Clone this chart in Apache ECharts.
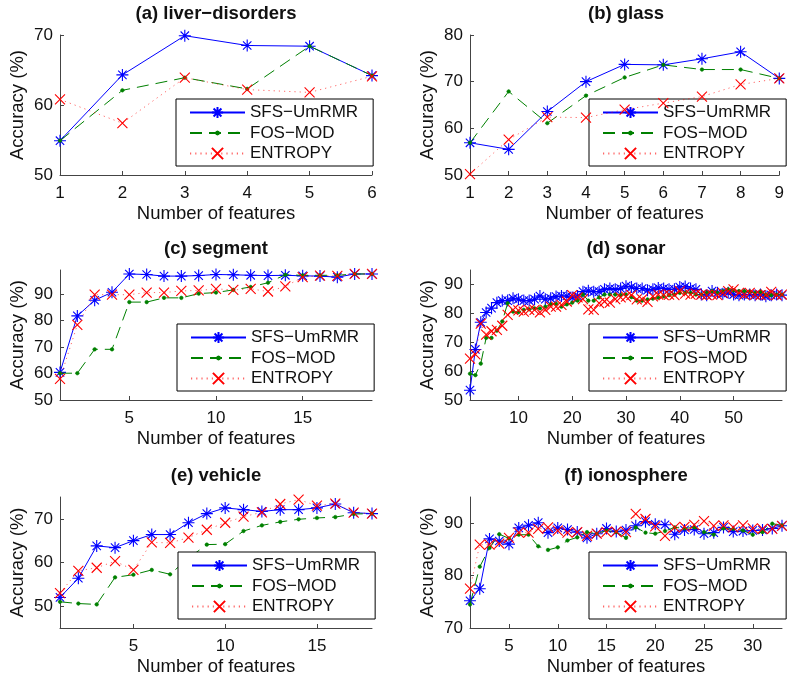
<!DOCTYPE html>
<html>
<head>
<meta charset="utf-8">
<script src="https://cdn.jsdelivr.net/npm/echarts@6/dist/echarts.min.js"></script>
<style>
  html, body { margin: 0; padding: 0; background: #fff; }
  #chart { width: 787px; height: 679px; }
</style>
</head>
<body>
<div id="chart"></div>
<script>
// ---- Method names (legend entries) ----
const methodNames = ['SFS\u2212UmRMR', 'FOS\u2212MOD', 'ENTROPY'];

// ---- Panel titles ----
const panelTitles = ['(a) liver\u2212disorders', '(b) glass', '(c) segment', '(d) sonar', '(e) vehicle', '(f) ionosphere'];

// ---- (a) liver-disorders ----
const liverSFS = [54.9, 64.3, 69.9, 68.5, 68.4, 64.2];
const liverFOS = [54.9, 62.1, 63.9, 62.3, 68.4, 64.2];
const liverENT = [60.8, 57.4, 63.9, 62.2, 61.8, 64.1];
const liverXTicks = [1, 2, 3, 4, 5, 6];
const liverYTicks = [50, 60, 70];

// ---- (b) glass ----
const glassSFS = [56.9, 55.5, 63.6, 70.0, 73.7, 73.6, 74.9, 76.4, 70.7];
const glassFOS = [56.9, 67.9, 61.1, 67.0, 70.9, 73.6, 72.6, 72.6, 70.7];
const glassENT = [50.2, 57.6, 62.4, 62.3, 64.0, 65.4, 66.8, 69.4, 70.7];
const glassXTicks = [1, 2, 3, 4, 5, 6, 7, 8, 9];
const glassYTicks = [50, 60, 70, 80];

// ---- (c) segment ----
const segmentSFS = [60.4, 81.7, 87.6, 90.6, 97.5, 97.3, 96.7, 96.7, 96.9, 97.3, 97.2, 97.0, 96.9, 97.0, 96.8, 96.7, 96.3, 97.5, 97.5];
const segmentFOS = [60.1, 60.1, 69.1, 69.1, 86.9, 86.9, 88.5, 88.5, 90.1, 90.5, 91.5, 92.6, 94.2, 97.2, 97.0, 97.0, 97.0, 97.5, 97.5];
const segmentENT = [58.0, 78.3, 89.7, 89.7, 89.7, 90.5, 90.5, 91.1, 91.3, 91.9, 91.5, 91.9, 90.9, 92.8, 96.3, 96.9, 96.8, 97.5, 97.5];
const segmentXTicks = [5, 10, 15];
const segmentYTicks = [50, 60, 70, 80, 90];

// ---- (d) sonar ----
const sonarSFS = [53.4, 67.5, 76.9, 80.3, 81.8, 83.7, 84.4, 84.4, 85.2, 84.9,
                  84.4, 84.4, 84.9, 86.0, 84.9, 85.2, 85.8, 86.0, 86.0, 85.5,
                  86.0, 87.5, 87.8, 87.5, 87.5, 88.3, 88.6, 88.3, 88.6, 89.4,
                  89.1, 88.6, 88.6, 88.0, 88.3, 88.8, 88.6, 88.3, 88.3, 89.1,
                  89.3, 88.6, 88.3, 86.5, 86.3, 87.7, 87.1, 86.8, 87.1, 86.5,
                  86.3, 86.5, 86.5, 86.3, 86.5, 85.9, 86.3, 86.5, 86.3];
const sonarFOS = [59.1, 58.6, 62.6, 71.5, 71.5, 74.0, 77.2, 83.5, 80.6, 80.4,
                  81.2, 81.4, 81.7, 81.7, 82.3, 83.1, 83.3, 82.3, 83.1, 83.7,
                  84.4, 86.5, 84.4, 84.4, 85.5, 86.5, 86.5, 86.5, 86.3, 86.5,
                  85.6, 84.4, 84.4, 84.8, 85.1, 85.4, 85.9, 86.3, 86.5, 87.1,
                  87.1, 87.1, 86.5, 86.5, 87.1, 87.7, 87.1, 87.7, 88.3, 87.9,
                  87.7, 87.7, 87.5, 87.1, 87.5, 86.5, 86.3, 86.5, 86.5];
const sonarENT = [64.3, 65.8, 76.4, 72.6, 73.8, 74.3, 75.7, 79.5, 81.2, 81.0,
                  80.6, 81.2, 81.2, 80.3, 81.2, 82.3, 82.3, 82.9, 84.1, 86.3,
                  85.5, 84.9, 81.4, 81.2, 83.5, 84.1, 83.7, 84.9, 85.5, 85.8,
                  86.3, 84.8, 84.8, 84.0, 85.9, 86.5, 86.3, 86.5, 86.3, 87.7,
                  86.8, 86.5, 86.8, 86.5, 86.3, 86.5, 86.3, 87.1, 87.7, 88.3,
                  87.1, 86.5, 87.1, 86.5, 86.3, 86.5, 87.4, 86.3, 86.5];
const sonarXTicks = [10, 20, 30, 40, 50];
const sonarYTicks = [50, 60, 70, 80, 90];

// ---- (e) vehicle ----
const vehicleSFS = [52.0, 56.4, 63.8, 63.4, 65.0, 66.4, 66.4, 69.1, 71.2, 72.5, 72.1, 71.7, 72.1, 72.1, 72.5, 73.4, 71.4, 71.2];
const vehicleFOS = [51.0, 50.6, 50.4, 56.6, 57.2, 58.3, 57.3, 61.0, 64.1, 64.2, 67.2, 68.5, 69.3, 69.9, 70.2, 70.4, 71.1, 71.2];
const vehicleENT = [53.0, 58.1, 58.8, 60.3, 58.3, 64.6, 64.5, 65.7, 67.5, 69.1, 70.5, 71.5, 73.4, 74.4, 73.0, 73.5, 71.4, 71.2];
const vehicleXTicks = [5, 10, 15];
const vehicleYTicks = [50, 60, 70];

// ---- (f) ionosphere ----
const ionoSFS = [75.2, 77.5, 87.0, 86.6, 86.0, 89.1, 89.6, 90.1, 88.2, 89.1,
                 88.8, 88.3, 87.2, 88.0, 89.0, 88.4, 88.7, 89.5, 90.3, 89.8,
                 89.7, 87.9, 88.7, 88.8, 88.0, 88.2, 89.2, 88.4, 88.5, 88.6,
                 88.7, 89.0, 89.5];
const ionoFOS = [74.5, 81.7, 85.3, 87.9, 87.1, 87.8, 87.8, 85.6, 84.9, 85.4,
                 86.7, 87.3, 88.3, 88.0, 88.6, 88.3, 87.2, 89.2, 88.2, 88.0,
                 88.5, 89.2, 89.0, 89.2, 88.3, 87.8, 89.0, 88.9, 88.6, 87.8,
                 88.3, 89.9, 89.6];
const ionoENT = [77.5, 85.9, 85.9, 86.1, 87.2, 88.2, 88.2, 88.9, 89.2, 88.6,
                 88.2, 88.3, 87.6, 88.0, 88.3, 88.4, 88.3, 91.8, 90.8, 89.4,
                 87.6, 89.2, 89.3, 89.7, 90.4, 89.5, 89.6, 89.2, 89.6, 89.0,
                 88.9, 88.9, 89.5];
const ionoXTicks = [5, 10, 15, 20, 25, 30];
const ionoYTicks = [70, 80, 90];

// ---- Shared styling ----
const FONT = 'Liberation Sans, Arial, Helvetica, sans-serif';
const TEXT_COLOR = '#111';
const AXIS_COLOR = '#444';
const TICK_FONT = 17;
const NAME_FONT = 18.5;
const LEGEND_FONT = 17;

// Marker shapes: 8-spoke asterisk, diagonal cross, and a small dot
// (the dot sits inside an invisible bounding box so it stays small).
const STAR = 'path://M0,-1L0,1M-1,0L1,0M-0.7,-0.7L0.7,0.7M-0.7,0.7L0.7,-0.7';
const CROSS = 'path://M-1,-1L1,1M-1,1L1,-1';
const DOT = 'path://M-4,-4L-4,-4M4,4L4,4M1,0L0.7,0.7L0,1L-0.7,0.7L-1,0L-0.7,-0.7L0,-1L0.7,-0.7Z';

const methodStyles = [
  { color: '#0000ff', symbol: STAR, symbolSize: 12, line: { width: 1, type: 'solid' }, border: 1.1 },
  { color: '#008000', symbol: DOT, symbolSize: 15, line: { width: 1, type: [12, 7] }, border: 0.5 },
  { color: '#ff0000', symbol: CROSS, symbolSize: 10, line: { width: 1, type: [1.2, 4], opacity: 0.6 }, border: 1.1 }
];

// ---- Panel layout ----
const panels = [
  { series: [liverSFS, liverFOS, liverENT], xMin: 1, xMax: 6, xTicks: liverXTicks,
    yMin: 50, yMax: 70, yTicks: liverYTicks,
    grid: { left: 60, top: 35, width: 312, height: 140 }, legend: { left: 176, top: 99 } },
  { series: [glassSFS, glassFOS, glassENT], xMin: 1, xMax: 9, xTicks: glassXTicks,
    yMin: 50, yMax: 80, yTicks: glassYTicks,
    grid: { left: 470, top: 35, width: 312, height: 140 }, legend: { left: 589, top: 99 } },
  { series: [segmentSFS, segmentFOS, segmentENT], xMin: 1, xMax: 19, xTicks: segmentXTicks,
    yMin: 50, yMax: 99, yTicks: segmentYTicks,
    grid: { left: 60, top: 270, width: 312, height: 130 }, legend: { left: 177, top: 324 } },
  { series: [sonarSFS, sonarFOS, sonarENT], xMin: 1, xMax: 59, xTicks: sonarXTicks,
    yMin: 50, yMax: 95, yTicks: sonarYTicks,
    grid: { left: 470, top: 270, width: 312, height: 130 }, legend: { left: 589, top: 324 } },
  { series: [vehicleSFS, vehicleFOS, vehicleENT], xMin: 1, xMax: 18, xTicks: vehicleXTicks,
    yMin: 45, yMax: 75, yTicks: vehicleYTicks,
    grid: { left: 60, top: 497, width: 312, height: 131 }, legend: { left: 178, top: 552 } },
  { series: [ionoSFS, ionoFOS, ionoENT], xMin: 1, xMax: 33, xTicks: ionoXTicks,
    yMin: 70, yMax: 95, yTicks: ionoYTicks,
    grid: { left: 470, top: 497, width: 312, height: 131 }, legend: { left: 589, top: 552 } }
];

const grids = [], xAxes = [], yAxes = [], legends = [], seriesList = [], graphics = [];

panels.forEach((p, i) => {
  grids.push(Object.assign({ containLabel: false }, p.grid));

  xAxes.push({
    type: 'value', gridIndex: i, min: p.xMin, max: p.xMax,
    name: 'Number of features', nameLocation: 'middle', nameGap: 29,
    nameTextStyle: { fontSize: NAME_FONT, color: TEXT_COLOR, fontFamily: FONT },
    axisLine: { onZero: false, lineStyle: { color: AXIS_COLOR, width: 1 } },
    axisTick: { inside: true, length: 4, lineStyle: { color: AXIS_COLOR }, customValues: p.xTicks },
    axisLabel: { fontSize: TICK_FONT, color: TEXT_COLOR, fontFamily: FONT, margin: 10, customValues: p.xTicks },
    splitLine: { show: false }
  });

  yAxes.push({
    type: 'value', gridIndex: i, min: p.yMin, max: p.yMax,
    name: 'Accuracy (%)', nameLocation: 'middle', nameGap: 33,
    nameTextStyle: { fontSize: NAME_FONT, color: TEXT_COLOR, fontFamily: FONT },
    axisLine: { show: true, onZero: false, lineStyle: { color: AXIS_COLOR, width: 1 } },
    axisTick: { show: true, inside: true, length: 4, lineStyle: { color: AXIS_COLOR }, customValues: p.yTicks },
    axisLabel: { fontSize: TICK_FONT, color: TEXT_COLOR, fontFamily: FONT, margin: 7, customValues: p.yTicks },
    splitLine: { show: false }
  });

  legends.push({
    left: p.legend.left, top: p.legend.top,
    orient: 'vertical', selectedMode: false,
    data: methodNames,
    itemWidth: 55, itemHeight: 14, itemGap: 3.5,
    padding: [5, 15, 4, 13],
    borderColor: '#000', borderWidth: 1, borderRadius: 0,
    backgroundColor: '#fff',
    textStyle: { fontSize: LEGEND_FONT, color: TEXT_COLOR, fontFamily: FONT }
  });

  p.series.forEach((vals, k) => {
    const st = methodStyles[k];
    seriesList.push({
      type: 'line', name: methodNames[k],
      xAxisIndex: i, yAxisIndex: i,
      data: vals.map((v, j) => [j + 1, v]),
      symbol: st.symbol, symbolSize: st.symbolSize,
      showSymbol: true, showAllSymbol: true,
      lineStyle: Object.assign({ color: st.color }, st.line),
      itemStyle: { color: st.color, borderColor: st.color, borderWidth: st.border },
      emphasis: { disabled: true },
      z: 2 + k
    });
  });

  graphics.push({
    type: 'text',
    x: p.grid.left + p.grid.width / 2,
    y: p.grid.top - 21,
    style: {
      text: panelTitles[i],
      font: 'bold ' + NAME_FONT + 'px ' + FONT,
      fill: TEXT_COLOR,
      align: 'center',
      verticalAlign: 'middle'
    }
  });
});

const chart = echarts.init(document.getElementById('chart'));
chart.setOption({
  animation: false,
  backgroundColor: '#fff',
  textStyle: { fontFamily: FONT },
  grid: grids,
  xAxis: xAxes,
  yAxis: yAxes,
  legend: legends,
  series: seriesList,
  graphic: graphics
});
</script>
</body>
</html>
